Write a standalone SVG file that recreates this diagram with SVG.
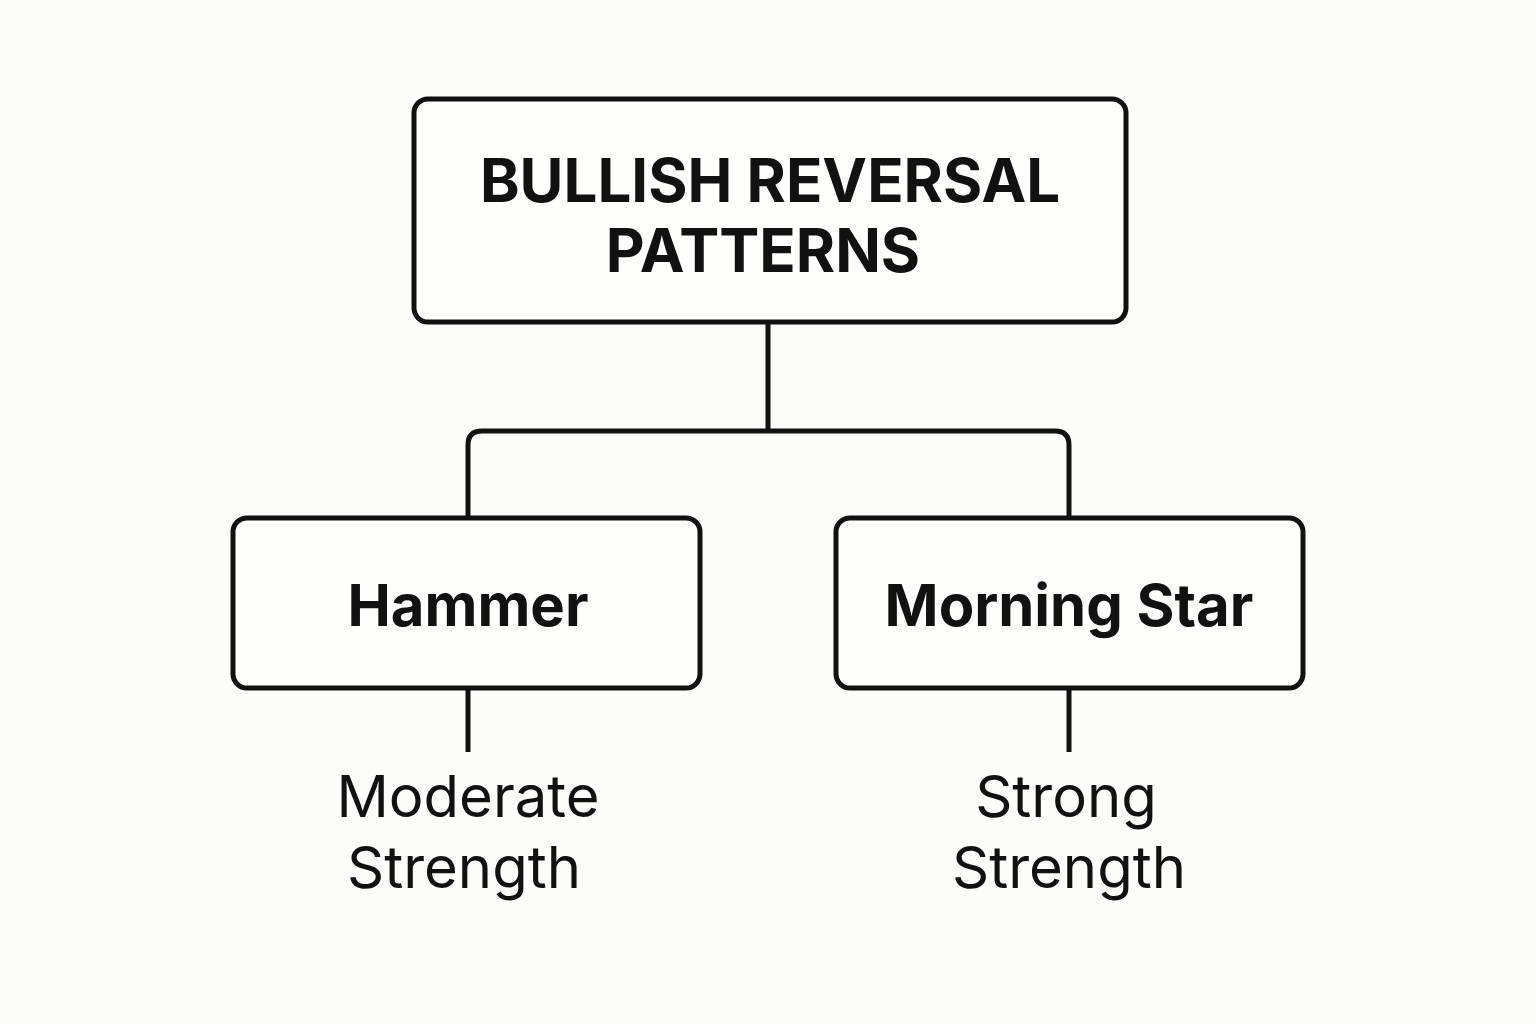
<svg xmlns="http://www.w3.org/2000/svg" width="1536" height="1024" viewBox="0 0 1536 1024">
<style>
.box{fill:#fefefc;stroke:#111;stroke-width:5}
.ln{fill:none;stroke:#111;stroke-width:5}
.t{font-family:Inter,"Liberation Sans",sans-serif;fill:#111;text-anchor:middle}
.b{font-weight:700}
</style>
<rect width="1536" height="1024" fill="#fcfcfa"/>
<g id="connectors">
<path class="ln" d="M768 322V431"/>
<path class="ln" d="M468 518V445Q468 431 482 431H1055Q1069 431 1069 445V518"/>
<path class="ln" d="M468 688V752"/>
<path class="ln" d="M1069 688V752"/>
</g>
<g id="root">
<rect class="box" x="414" y="99" width="712" height="223" rx="14"/>
<text class="t b" x="770" y="202" font-size="60">BULLISH REVERSAL</text>
<text class="t b" x="763" y="272" font-size="60">PATTERNS</text>
</g>
<g id="hammer">
<rect class="box" x="233" y="518" width="467" height="170" rx="14"/>
<text class="t b" x="468" y="626" font-size="58">Hammer</text>
</g>
<g id="morning-star">
<rect class="box" x="836" y="518" width="467" height="170" rx="14"/>
<text class="t b" x="1069" y="626" font-size="58">Morning Star</text>
</g>
<g id="hammer-strength">
<text class="t" x="468" y="817" font-size="58">Moderate</text>
<text class="t" x="464" y="888" font-size="58">Strength</text>
</g>
<g id="morning-star-strength">
<text class="t" x="1066" y="817" font-size="58">Strong</text>
<text class="t" x="1069" y="888" font-size="58">Strength</text>
</g>
</svg>
